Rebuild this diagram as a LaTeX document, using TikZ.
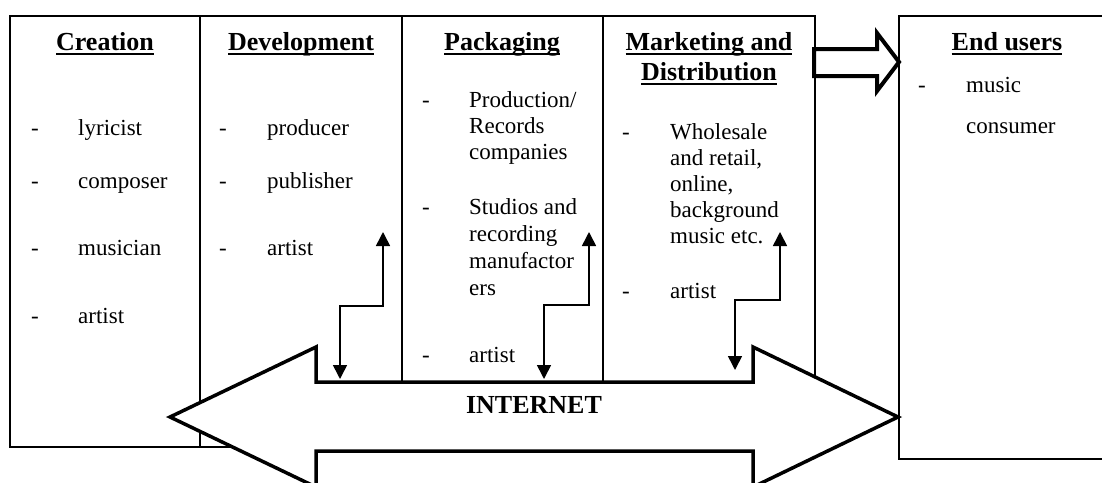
\documentclass[tikz,border=0pt]{standalone}
\usepackage{fontspec}
\setmainfont{Liberation Serif}
\usetikzlibrary{arrows.meta}

% bold heading with a rule set just below the baseline
\newcommand\headul[1]{\setbox0\hbox{#1}\rlap{\rule[-5pt]{\wd0}{2pt}}\box0}

\begin{document}
\begin{tikzpicture}[x=1pt,y=-1pt,
  body/.style={anchor=base west, inner sep=0pt, font=\fontsize{23}{26}\selectfont},
  head/.style={anchor=base, inner sep=0pt, font=\fontsize{26}{30}\selectfont\bfseries},
  frame/.style={draw, line width=2pt},
  hollow/.style={draw, fill=white, line width=3.5pt, line join=miter},
  link/.style={line width=1.6pt,
    {Triangle[width=14pt,length=14pt]}-{Triangle[width=14pt,length=14pt]}}]

\useasboundingbox (0,0) rectangle (1102,482);
\clip (0,0) rectangle (1102,482);

% value chain columns
\draw[frame] (10,16) rectangle (200,447);
\draw[frame] (200,16) rectangle (402,447);
\draw[frame] (402,16) rectangle (603,447);
\draw[frame] (603,16) rectangle (815,447);
% end users box
\draw[frame] (899,16) rectangle (1120,459);

% hollow arrow towards the end users
\draw[hollow, line width=4pt] (814,49) -- (877,49) -- (877,33) -- (899,62)
  -- (877,91) -- (877,76) -- (814,76) -- cycle;

% two-headed INTERNET arrow
\draw[hollow] (170,417) -- (316,347) -- (316,382) -- (753,382) -- (753,347)
  -- (898,417) -- (753,487) -- (753,451) -- (316,451) -- (316,487) -- cycle;
\node[head] (inet) at (534,413) {INTERNET};

% links between columns and the internet
\coordinate (devTop) at (383,232);
\coordinate (devMid) at (383,306);
\coordinate (devBot) at (340,379);
\coordinate (pacTop) at (589,232);
\coordinate (pacMid) at (589,305);
\coordinate (pacBot) at (544,379);
\coordinate (mktTop) at (780,232);
\coordinate (mktMid) at (780,300);
\coordinate (mktBot) at (735,370);
\draw[link] (devBot) |- (devMid) -- (devTop);
\draw[link] (pacBot) |- (pacMid) -- (pacTop);
\draw[link] (mktBot) |- (mktMid) -- (mktTop);

% headings
\node[head] (hCre) at (105,50) {\headul{Creation}};
\node[head] (hDev) at (301,50) {\headul{Development}};
\node[head] (hPac) at (502,50) {\headul{Packaging}};
\node[head] (hMkt) at (709,50) {\headul{Marketing and}};
\node[head] (hDis) at (709,80) {\headul{Distribution}};
\node[head] (hEnd) at (1007,50) {\headul{End users}};

% Creation
\node[body] (cD1) at (31,135) {-};  \node[body] (c1) at (78,135) {lyricist};
\node[body] (cD2) at (31,188) {-};  \node[body] (c2) at (78,188) {composer};
\node[body] (cD3) at (31,255) {-};  \node[body] (c3) at (78,255) {musician};
\node[body] (cD4) at (31,323) {-};  \node[body] (c4) at (78,323) {artist};

% Development
\node[body] (dD1) at (219,135) {-}; \node[body] (d1) at (267,135) {producer};
\node[body] (dD2) at (219,188) {-}; \node[body] (d2) at (267,188) {publisher};
\node[body] (dD3) at (219,255) {-}; \node[body] (d3) at (267,255) {artist};

% Packaging
\node[body] (pD1) at (422,107) {-};
\node[body] (p1a) at (469,107) {Production/};
\node[body] (p1b) at (469,133) {Records};
\node[body] (p1c) at (469,159) {companies};
\node[body] (pD2) at (422,214) {-};
\node[body] (p2a) at (469,214) {Studios and};
\node[body] (p2b) at (469,241) {recording};
\node[body] (p2c) at (469,268) {manufactor};
\node[body] (p2d) at (469,295) {ers};
\node[body] (pD3) at (422,362) {-};
\node[body] (p3) at (469,362) {artist};

% Marketing and Distribution
\node[body] (mD1) at (622,139) {-};
\node[body] (m1a) at (670,139) {Wholesale};
\node[body] (m1b) at (670,165) {and retail,};
\node[body] (m1c) at (670,191) {online,};
\node[body] (m1d) at (670,217) {background};
\node[body] (m1e) at (670,243) {music etc.};
\node[body] (mD2) at (622,298) {-};
\node[body] (m2) at (670,298) {artist};

% End users
\node[body] (eD1) at (918,92) {-};
\node[body] (e1a) at (966,92) {music};
\node[body] (e1b) at (966,133) {consumer};
\end{tikzpicture}
\end{document}
